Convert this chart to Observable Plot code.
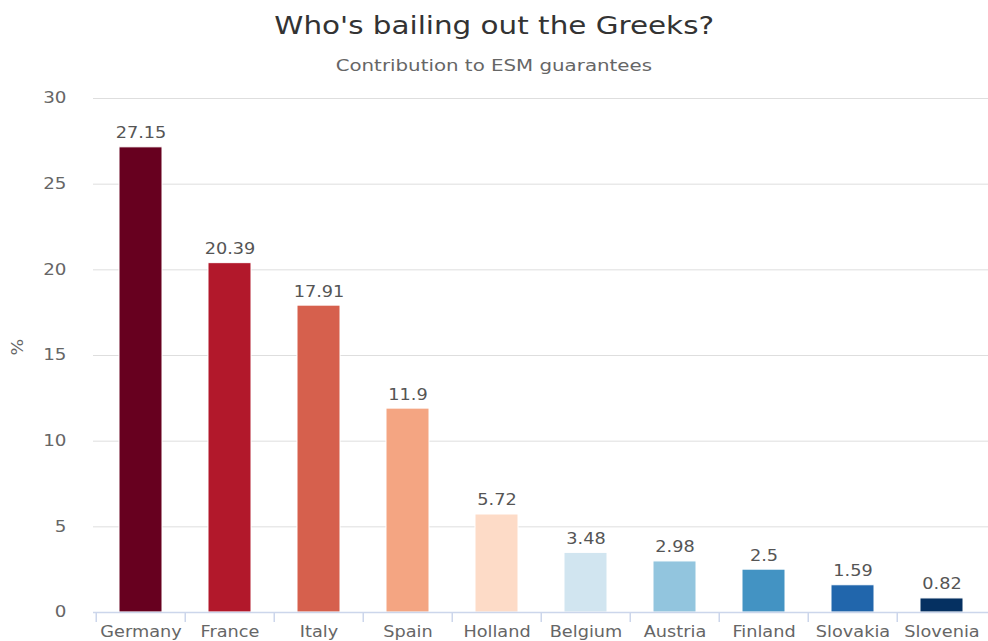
<!DOCTYPE html>
<html>
<head>
<meta charset="utf-8">
<script src="https://cdn.jsdelivr.net/npm/d3@7"></script>
<script src="https://cdn.jsdelivr.net/npm/@observablehq/plot@0.6"></script>
<style>
  html, body { margin: 0; padding: 0; background: #fff; overflow: hidden; }
  body { width: 988px; height: 641px; position: relative; font-family: "DejaVu Sans", Verdana, sans-serif; }
  .head { position: absolute; left: 0; width: 988px; text-align: center; }
  .head span { display: inline-block; transform: scaleX(1.2); transform-origin: center; }
  #title { top: 11px; font-size: 24.5px; color: #333; line-height: 30px; }
  #subtitle { top: 55px; font-size: 16.5px; color: #666; line-height: 22px; }
  #chart { position: absolute; left: 0; top: 80px; }
</style>
</head>
<body>
<div id="title" class="head"><span>Who's bailing out the Greeks?</span></div>
<div id="subtitle" class="head"><span>Contribution to ESM guarantees</span></div>
<div id="chart"></div>
<script>
const countries = ["Germany", "France", "Italy", "Spain", "Holland", "Belgium", "Austria", "Finland", "Slovakia", "Slovenia"];
const shares = [27.15, 20.39, 17.91, 11.9, 5.72, 3.48, 2.98, 2.5, 1.59, 0.82];
const colors = ["#67001f", "#b2182b", "#d6604d", "#f4a582", "#fddbc7", "#d1e5f0", "#92c5de", "#4393c3", "#2166ac", "#053061"];
const yTicks = [0, 5, 10, 15, 20, 25, 30];

const data = countries.map((c, i) => ({country: c, value: shares[i], color: colors[i]}));

const width = 988, marginLeft = 93, marginRight = 0;
const step = (width - marginLeft - marginRight) / countries.length;

const chart = Plot.plot({
  width,
  height: 561,
  marginTop: 18,
  marginBottom: 29,
  marginLeft,
  marginRight,
  style: {fontFamily: "DejaVu Sans, Verdana, sans-serif", fontSize: "14px", color: "#666", background: "#fff", overflow: "visible"},
  x: {domain: countries, paddingInner: 0.52, paddingOuter: 0.26, align: 0.5},
  y: {domain: [0, 30]},
  color: {type: "identity"},
  marks: [
    Plot.gridY(yTicks, {stroke: "#dedede", strokeOpacity: 1}),
    Plot.axisY(yTicks, {tickSize: 0, tickPadding: 27, fontSize: 15.5, fill: "#666", label: null}),
    Plot.text(["%"], {frameAnchor: "left", dx: -75, rotate: -90, fontSize: 15, fill: "#666"}),
    Plot.barY(data, {x: "country", y: "value", fill: "color", stroke: "#fff", strokeWidth: 1}),
    Plot.text(data, {x: "country", y: "value", text: d => String(d.value), lineAnchor: "bottom", dy: -9, fontSize: 15, fill: "#555"}),
    Plot.ruleY([0], {stroke: "#ccd6eb", strokeWidth: 1.5}),
    Plot.axisX({tickSize: 10, dx: -step / 2, stroke: "#ccd6eb", strokeWidth: 1.5, tickFormat: () => "", label: null}),
    Plot.axisX({tickSize: 0, tickPadding: 14, fontSize: 15, fill: "#666", label: null})
  ]
});
document.getElementById("chart").appendChild(chart);
// widen glyphs to match the reference's stretched lettering
chart.querySelectorAll("text").forEach(t => {
  if (!t.textContent) return;
  const len = t.getComputedTextLength();
  if (len > 0) {
    t.setAttribute("textLength", len * 1.18);
    t.setAttribute("lengthAdjust", "spacingAndGlyphs");
  }
});
</script>
</body>
</html>
